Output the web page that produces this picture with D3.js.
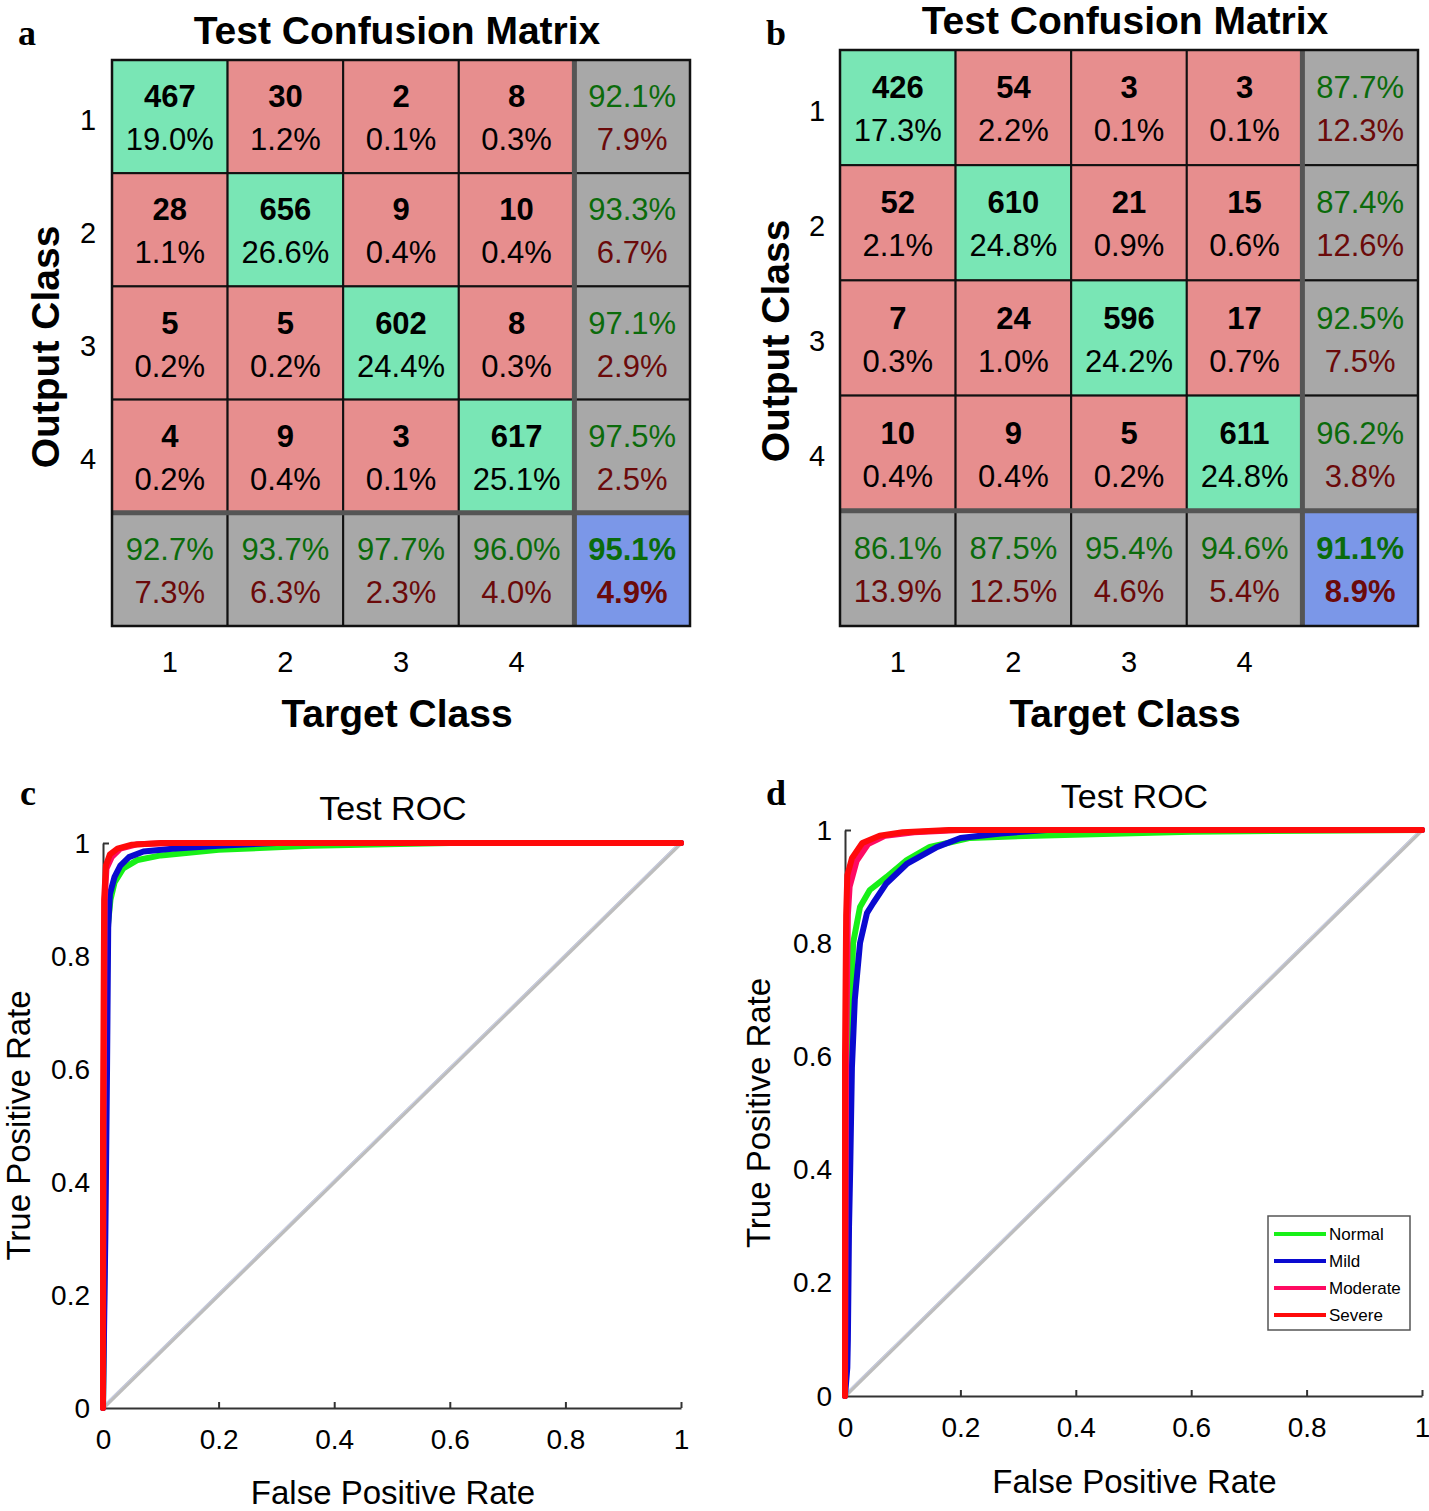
<!DOCTYPE html>
<html><head><meta charset="utf-8">
<script src="https://cdn.jsdelivr.net/npm/d3@7"></script>
<style>body{margin:0;background:#fff}svg{display:block}</style>
</head><body>
<svg id="chart" width="1429" height="1511"></svg>
<script>
// ---------- DATA ----------
const classLabels = ["1","2","3","4"];
const cmA_counts = [[467,30,2,8],[28,656,9,10],[5,5,602,8],[4,9,3,617]];
const cmA_pcts   = [[19.0,1.2,0.1,0.3],[1.1,26.6,0.4,0.4],[0.2,0.2,24.4,0.3],[0.2,0.4,0.1,25.1]];
const cmA_rowAcc = [92.1,93.3,97.1,97.5];
const cmA_rowErr = [7.9,6.7,2.9,2.5];
const cmA_colAcc = [92.7,93.7,97.7,96.0];
const cmA_colErr = [7.3,6.3,2.3,4.0];
const cmA_overall = [95.1,4.9];

const cmB_counts = [[426,54,3,3],[52,610,21,15],[7,24,596,17],[10,9,5,611]];
const cmB_pcts   = [[17.3,2.2,0.1,0.1],[2.1,24.8,0.9,0.6],[0.3,1.0,24.2,0.7],[0.4,0.4,0.2,24.8]];
const cmB_rowAcc = [87.7,87.4,92.5,96.2];
const cmB_rowErr = [12.3,12.6,7.5,3.8];
const cmB_colAcc = [86.1,87.5,95.4,94.6];
const cmB_colErr = [13.9,12.5,4.6,5.4];
const cmB_overall = [91.1,8.9];

const seriesNames = ["Normal","Mild","Moderate","Severe"];
const rocTicks = [0,0.2,0.4,0.6,0.8,1];
const rocTickLabels = ["0","0.2","0.4","0.6","0.8","1"];

// ROC curves [FPR, TPR] panel c
const rocC_Normal = [[0,0],[0.003,0.3],[0.005,0.6],[0.008,0.85],[0.013,0.9],[0.02,0.93],[0.035,0.955],[0.06,0.97],[0.1,0.978],[0.2,0.988],[0.36,0.995],[0.6,1],[1,1]];
const rocC_Mild = [[0,0],[0.004,0.3],[0.007,0.6],[0.009,0.85],[0.012,0.91],[0.02,0.94],[0.03,0.96],[0.045,0.975],[0.07,0.985],[0.12,0.99],[0.2,0.995],[0.3,1],[1,1]];
const rocC_Moderate = [[0,0],[0.001,0.5],[0.003,0.9],[0.006,0.955],[0.015,0.975],[0.03,0.99],[0.06,0.998],[0.12,1],[1,1]];
const rocC_Severe = [[0,0],[0,0.5],[0.002,0.9],[0.005,0.96],[0.012,0.98],[0.025,0.99],[0.05,0.997],[0.1,1],[1,1]];
// panel d
const rocD_Normal = [[0,0],[0.003,0.3],[0.006,0.5],[0.009,0.62],[0.014,0.8],[0.026,0.864],[0.043,0.894],[0.072,0.917],[0.107,0.947],[0.147,0.97],[0.217,0.986],[0.33,0.99],[0.6,0.997],[1,1]];
const rocD_Mild = [[0,0],[0.004,0.05],[0.005,0.1],[0.007,0.3],[0.009,0.4],[0.012,0.58],[0.017,0.7],[0.026,0.8],[0.038,0.853],[0.049,0.871],[0.072,0.906],[0.107,0.94],[0.16,0.97],[0.2,0.986],[0.27,0.994],[0.35,1],[1,1]];
const rocD_Moderate = [[0,0],[0.002,0.6],[0.005,0.85],[0.008,0.9],[0.02,0.945],[0.04,0.975],[0.07,0.99],[0.12,0.996],[0.2,1],[1,1]];
const rocD_Severe = [[0,0],[0,0.6],[0.002,0.85],[0.004,0.92],[0.012,0.95],[0.03,0.977],[0.06,0.99],[0.1,0.996],[0.18,1],[1,1]];

// ---------- STYLE ----------
const FONT = "'Liberation Sans', Arial, sans-serif";
const SERIF = "'Liberation Serif', 'Times New Roman', serif";
const C_GREEN = "#79e6b5", C_RED = "#e78e8e", C_GRAY = "#a8a8a8", C_BLUE = "#7b97e8";
const T_GREEN = "#0b6b0b", T_RED = "#6b0a0a";
const seriesColors = {Normal:"#18f018", Mild:"#0a0ad0", Moderate:"#ff0a62", Severe:"#ff0a0a"};

const svg = d3.select("#chart");

function drawCM(cfg) {
  const {x0,x1,y0,y1,counts,pcts,rowAcc,rowErr,colAcc,colErr,overall,titleY,rowLabelX,outLabelX,outLabelY,letter,letterX} = cfg;
  const idx = [0,1,2,3,4];
  const xs = d3.scaleBand().domain(idx).range([x0,x1]);
  const ys = d3.scaleBand().domain(idx).range([y0,y1]);
  const g = svg.append("g");
  const cells = [];
  idx.forEach(r => idx.forEach(c => {
    let fill, top, bot, topColor="#000", botColor="#000", topBold=false;
    if (r<4 && c<4) {
      fill = r===c ? C_GREEN : C_RED;
      top = counts[r][c]; bot = pcts[r][c].toFixed(1)+"%"; topBold=true;
    } else if (r<4 && c===4) {
      fill = C_GRAY; top = rowAcc[r].toFixed(1)+"%"; bot = rowErr[r].toFixed(1)+"%";
      topColor=T_GREEN; botColor=T_RED;
    } else if (r===4 && c<4) {
      fill = C_GRAY; top = colAcc[c].toFixed(1)+"%"; bot = colErr[c].toFixed(1)+"%";
      topColor=T_GREEN; botColor=T_RED;
    } else {
      fill = C_BLUE; top = overall[0].toFixed(1)+"%"; bot = overall[1].toFixed(1)+"%";
      topColor=T_GREEN; botColor=T_RED; topBold=true;
    }
    cells.push({r,c,fill,top,bot,topColor,botColor,topBold,botBold:(r===4&&c===4)});
  }));
  g.selectAll("rect.cell").data(cells).join("rect")
    .attr("x", d=>xs(d.c)).attr("y", d=>ys(d.r))
    .attr("width", xs.bandwidth()).attr("height", ys.bandwidth())
    .attr("fill", d=>d.fill).attr("stroke","#111").attr("stroke-width",2);
  g.append("line").attr("x1", xs(4)).attr("x2", xs(4)).attr("y1", y0).attr("y2", y1)
    .attr("stroke","#555").attr("stroke-width",5);
  g.append("line").attr("x1", x0).attr("x2", x1).attr("y1", ys(4)).attr("y2", ys(4))
    .attr("stroke","#555").attr("stroke-width",5);
  g.append("rect").attr("x",x0).attr("y",y0).attr("width",x1-x0).attr("height",y1-y0)
    .attr("fill","none").attr("stroke","#111").attr("stroke-width",2.5);
  const bw = xs.bandwidth(), bh = ys.bandwidth();
  g.selectAll("text.top").data(cells).join("text")
    .attr("x", d=>xs(d.c)+bw/2).attr("y", d=>ys(d.r)+bh/2-20)
    .attr("text-anchor","middle").attr("dominant-baseline","central")
    .attr("font-family",FONT).attr("font-size",31)
    .attr("font-weight", d=>d.topBold?"bold":"normal")
    .attr("fill", d=>d.topColor).text(d=>d.top);
  g.selectAll("text.bot").data(cells).join("text")
    .attr("x", d=>xs(d.c)+bw/2).attr("y", d=>ys(d.r)+bh/2+23)
    .attr("text-anchor","middle").attr("dominant-baseline","central")
    .attr("font-family",FONT).attr("font-size",31)
    .attr("font-weight", d=>d.botBold?"bold":"normal")
    .attr("fill", d=>d.botColor).text(d=>d.bot);
  g.selectAll("text.rl").data(classLabels).join("text")
    .attr("x", rowLabelX).attr("y", (d,i)=>ys(i)+bh/2+3)
    .attr("text-anchor","middle").attr("dominant-baseline","central")
    .attr("font-family",FONT).attr("font-size",29).text(d=>d);
  g.selectAll("text.cl").data(classLabels).join("text")
    .attr("x", (d,i)=>xs(i)+bw/2).attr("y", 662)
    .attr("text-anchor","middle").attr("dominant-baseline","central")
    .attr("font-family",FONT).attr("font-size",29).text(d=>d);
  g.append("text").attr("x",(x0+x1)/2 - 4).attr("y",titleY)
    .attr("text-anchor","middle").attr("dominant-baseline","central")
    .attr("font-family",FONT).attr("font-size",39).attr("font-weight","bold")
    .text("Test Confusion Matrix");
  g.append("text").attr("x",(x0+x1)/2 - 4).attr("y",713)
    .attr("text-anchor","middle").attr("dominant-baseline","central")
    .attr("font-family",FONT).attr("font-size",39).attr("font-weight","bold")
    .text("Target Class");
  g.append("text").attr("transform",`translate(${outLabelX},${outLabelY}) rotate(-90)`)
    .attr("text-anchor","middle").attr("dominant-baseline","central")
    .attr("font-family",FONT).attr("font-size",39).attr("font-weight","bold")
    .text("Output Class");
  g.append("text").attr("x",letterX).attr("y",45)
    .attr("font-family",SERIF).attr("font-size",36).attr("font-weight","bold").text(letter);
}

drawCM({x0:112,x1:690,y0:60,y1:626,counts:cmA_counts,pcts:cmA_pcts,rowAcc:cmA_rowAcc,rowErr:cmA_rowErr,
  colAcc:cmA_colAcc,colErr:cmA_colErr,overall:cmA_overall,titleY:30,rowLabelX:88,outLabelX:45,outLabelY:347,letter:"a",letterX:18});
drawCM({x0:840,x1:1418,y0:50,y1:626,counts:cmB_counts,pcts:cmB_pcts,rowAcc:cmB_rowAcc,rowErr:cmB_rowErr,
  colAcc:cmB_colAcc,colErr:cmB_colErr,overall:cmB_overall,titleY:20,rowLabelX:817,outLabelX:775,outLabelY:341,letter:"b",letterX:766});

function drawROC(cfg) {
  const {x0,x1,y0,y1,curves,titleY,yLabelX,xLabelY,letter,letterX,legend} = cfg;
  const x = d3.scaleLinear().domain([0,1]).range([x0,x1]);
  const y = d3.scaleLinear().domain([0,1]).range([y0,y1]);
  const g = svg.append("g");
  const diag = [[0,0],[1,1]];
  const line = d3.line().x(d=>x(d[0])).y(d=>y(d[1]));
  g.append("path").attr("d", line(diag)).attr("stroke","#bdbdbd").attr("stroke-width",4).attr("fill","none");
  g.append("path").attr("d", line(diag)).attr("stroke","#c9d0f0").attr("stroke-width",1).attr("fill","none")
    .attr("transform","translate(-1,-1)");
  const xAxis = d3.axisBottom(x).tickValues(rocTicks).tickFormat((d,i)=>rocTickLabels[i])
    .tickSizeInner(-6).tickSizeOuter(0).tickPadding(21);
  const yAxis = d3.axisLeft(y).tickValues([1]).tickFormat(()=>"")
    .tickSizeInner(-6).tickSizeOuter(0);
  const gy = g.append("g").attr("transform",`translate(${x0},0)`).call(yAxis);
  gy.selectAll("path,line").attr("stroke","#333").attr("stroke-width",2);
  const gx = g.append("g").attr("transform",`translate(0,${y0})`).call(xAxis);
  gx.selectAll("path,line").attr("stroke","#333").attr("stroke-width",2);
  gx.selectAll("text").attr("font-family",FONT).attr("font-size",28).attr("fill","#000");
  g.selectAll("text.yt").data(rocTicks).join("text")
    .attr("x", x0-13).attr("y", d=>y(d)).attr("text-anchor","end").attr("dominant-baseline","central")
    .attr("font-family",FONT).attr("font-size",28).text((d,i)=>rocTickLabels[i]);
  seriesNames.forEach(name => {
    g.append("path").attr("d", line(curves[name])).attr("fill","none")
      .attr("stroke", seriesColors[name]).attr("stroke-width",6)
      .attr("stroke-linejoin","round").attr("stroke-linecap","round");
  });
  const xc = (x0+x1)/2 + 1;
  g.append("text").attr("x",xc).attr("y",titleY).attr("text-anchor","middle").attr("dominant-baseline","central")
    .attr("font-family",FONT).attr("font-size",34).text("Test ROC");
  g.append("text").attr("x",xc).attr("y",xLabelY).attr("text-anchor","middle").attr("dominant-baseline","central")
    .attr("font-family",FONT).attr("font-size",33).text("False Positive Rate");
  g.append("text").attr("transform",`translate(${yLabelX},${(y0+y1)/2}) rotate(-90)`)
    .attr("text-anchor","middle").attr("dominant-baseline","central")
    .attr("font-family",FONT).attr("font-size",33).text("True Positive Rate");
  g.append("text").attr("x",letterX).attr("y",805)
    .attr("font-family",SERIF).attr("font-size",36).attr("font-weight","bold").text(letter);
  if (legend) {
    const lg = g.append("g").attr("transform",`translate(${legend.x},${legend.y})`);
    lg.append("rect").attr("width",142).attr("height",114).attr("fill","#fff").attr("stroke","#555").attr("stroke-width",1.5);
    const items = lg.selectAll("g.it").data(seriesNames).join("g")
      .attr("transform",(d,i)=>`translate(0,${18+i*27})`);
    items.append("line").attr("x1",6).attr("x2",58).attr("stroke",d=>seriesColors[d]).attr("stroke-width",4);
    items.append("text").attr("x",61).attr("dominant-baseline","central")
      .attr("font-family",FONT).attr("font-size",17).text(d=>d);
  }
}

drawROC({x0:103,x1:681,y0:1408,y1:843,curves:{Normal:rocC_Normal,Mild:rocC_Mild,Moderate:rocC_Moderate,Severe:rocC_Severe},
  titleY:808,yLabelX:18,xLabelY:1492,letter:"c",letterX:20,legend:null});
drawROC({x0:845,x1:1422,y0:1396,y1:830,curves:{Normal:rocD_Normal,Mild:rocD_Mild,Moderate:rocD_Moderate,Severe:rocD_Severe},
  titleY:796,yLabelX:758,xLabelY:1481,letter:"d",letterX:766,legend:{x:1268,y:1216}});
</script>
</body></html>
